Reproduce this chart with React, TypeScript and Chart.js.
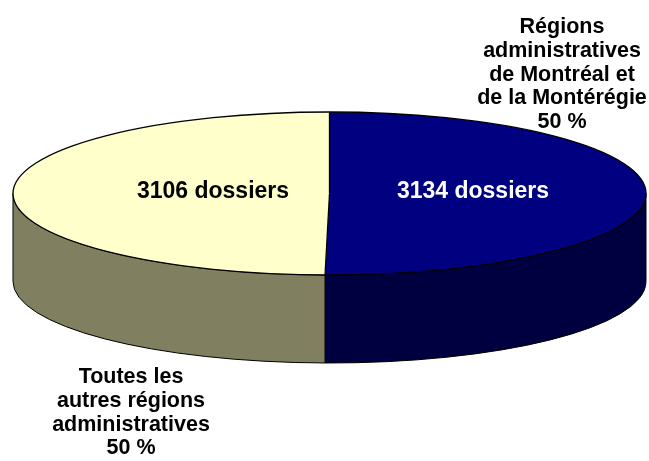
import React, { useEffect, useRef } from "react";
import { Chart, registerables } from "chart.js";

Chart.register(...registerables);

// ---- data ----
const categories = [
  "Régions administratives de Montréal et de la Montérégie",
  "Toutes les autres régions administratives",
];
const dossiers = [3134, 3106];
const calloutLines = [
  ["Régions", "administratives", "de Montréal et", "de la Montérégie"],
  ["Toutes les", "autres régions", "administratives"],
];
const topColors = ["#000080", "#FFFFCC"];
const sideColors = ["#000040", "#808060"];
const innerTextColors = ["#FFFFFF", "#000000"];

// ---- layout ----
const W = 649;
const H = 461;
const ELL = { cx: 329.5, cy: 193.5, rx: 316.5, ry: 81.5, depth: 88 };
const innerPos = [
  { x: 473, y: 198 },
  { x: 213, y: 198 },
];
const calloutPos = [
  { x: 562, y: 33 },
  { x: 131, y: 383 },
];
const LINE_STEP = 23.75;
const FONT = '"Liberation Sans", Arial, sans-serif';

const pie3d = {
  id: "pie3d",
  beforeDatasetsDraw(chart: any) {
    const ctx = chart.ctx;
    const meta = chart.getDatasetMeta(0);
    const arcs = meta.data;
    if (!arcs.length) return;
    const { cx, cy, rx, ry, depth } = ELL;
    // side walls
    ctx.save();
    ctx.lineWidth = 1;
    ctx.strokeStyle = "#000000";
    arcs.forEach((arc: any, i: number) => {
      const p = arc.getProps(["startAngle", "endAngle"], true);
      for (let k = -1; k <= 1; k++) {
        const a1 = Math.max(p.startAngle + 2 * Math.PI * k, 0);
        const a2 = Math.min(p.endAngle + 2 * Math.PI * k, Math.PI);
        if (a2 <= a1) continue;
        ctx.beginPath();
        ctx.ellipse(cx, cy, rx, ry, 0, a1, a2, false);
        ctx.lineTo(cx + rx * Math.cos(a2), cy + depth + ry * Math.sin(a2));
        ctx.ellipse(cx, cy + depth, rx, ry, 0, a2, a1, true);
        ctx.closePath();
        ctx.fillStyle = sideColors[i];
        ctx.fill();
        ctx.stroke();
      }
    });
    ctx.restore();
    // transform so the library's circle becomes the top ellipse
    const a0 = arcs[0].getProps(["x", "y", "outerRadius"], true);
    ctx.save();
    ctx.translate(cx, cy);
    ctx.scale(rx / a0.outerRadius, ry / a0.outerRadius);
    ctx.translate(-a0.x, -a0.y);
  },
  afterDatasetsDraw(chart: any) {
    const ctx = chart.ctx;
    ctx.restore();
    const meta = chart.getDatasetMeta(0);
    const arcs = meta.data;
    const { cx, cy, rx, ry } = ELL;
    ctx.save();
    ctx.strokeStyle = "#000000";
    ctx.lineWidth = 1.3;
    ctx.beginPath();
    ctx.ellipse(cx, cy, rx, ry, 0, 0, Math.PI * 2);
    ctx.stroke();
    arcs.forEach((arc: any) => {
      const p = arc.getProps(["startAngle"], true);
      ctx.beginPath();
      ctx.moveTo(cx, cy);
      ctx.lineTo(cx + rx * Math.cos(p.startAngle), cy + ry * Math.sin(p.startAngle));
      ctx.stroke();
    });
    // labels
    const total = dossiers.reduce((a, b) => a + b, 0);
    ctx.textAlign = "center";
    ctx.textBaseline = "alphabetic";
    ctx.font = `bold 23px ${FONT}`;
    dossiers.forEach((v, i) => {
      ctx.fillStyle = innerTextColors[i];
      ctx.fillText(`${v} dossiers`, innerPos[i].x, innerPos[i].y);
    });
    ctx.font = `bold 21.5px ${FONT}`;
    ctx.fillStyle = "#000000";
    dossiers.forEach((v, i) => {
      const lines = [...calloutLines[i], `${Math.round((v / total) * 100)} %`];
      lines.forEach((t, j) => {
        ctx.fillText(t, calloutPos[i].x, calloutPos[i].y + j * LINE_STEP);
      });
    });
    ctx.restore();
  },
};

export default function App() {
  const ref = useRef<HTMLCanvasElement | null>(null);
  useEffect(() => {
    if (!ref.current) return;
    const chart = new Chart(ref.current, {
      type: "pie",
      data: {
        labels: categories,
        datasets: [
          {
            data: dossiers,
            backgroundColor: topColors,
            borderWidth: 0,
            clip: false as any,
          },
        ],
      },
      options: {
        responsive: false,
        animation: false,
        devicePixelRatio: 1,
        layout: { padding: 20 },
        plugins: {
          legend: { display: false },
          tooltip: { enabled: false },
        },
      },
      plugins: [pie3d],
    });
    return () => chart.destroy();
  }, []);
  return (
    <div style={{ position: "fixed", left: 0, top: 0, width: W, height: H, background: "#fff" }}>
      <canvas ref={ref} width={W} height={H} style={{ display: "block", width: W, height: H }} />
    </div>
  );
}
